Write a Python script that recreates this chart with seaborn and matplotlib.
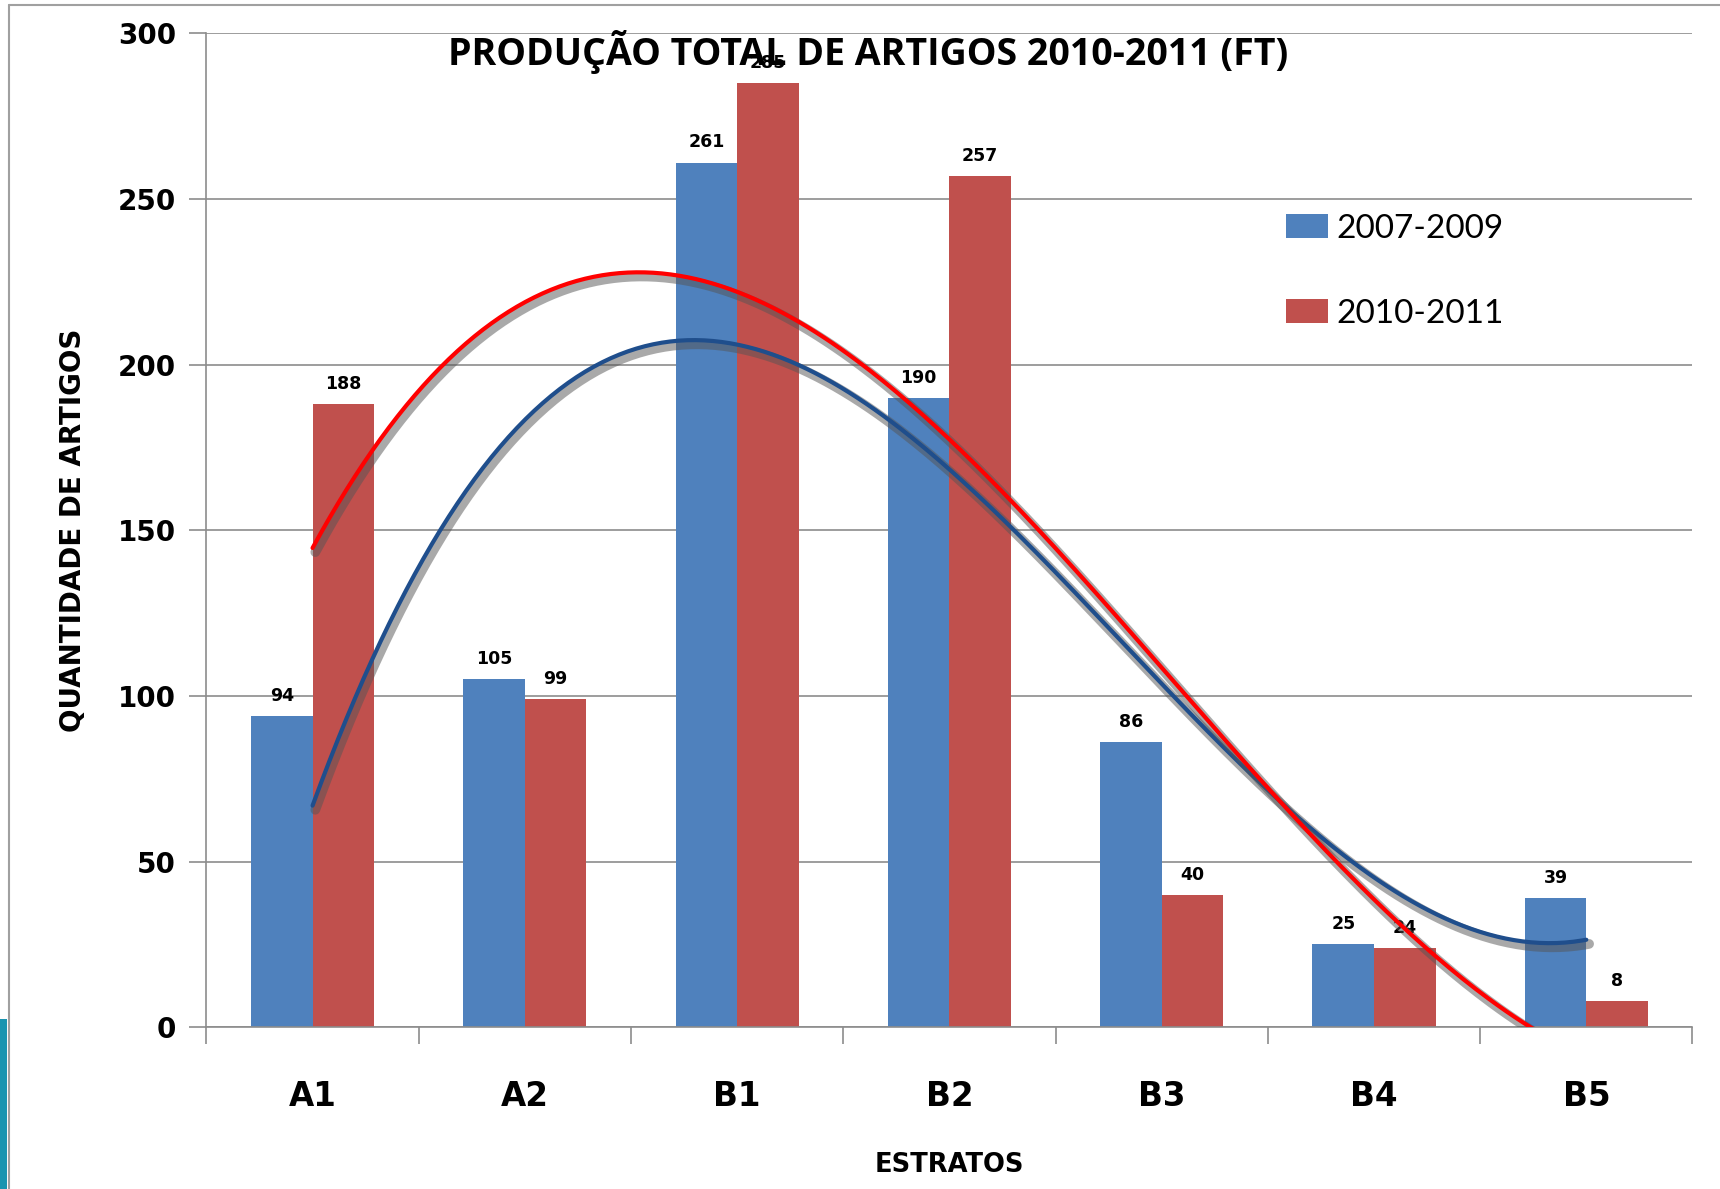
import numpy as np
import pandas as pd
import seaborn as sns
import matplotlib.pyplot as plt
import matplotlib.patheffects as pe
from matplotlib.lines import Line2D
from matplotlib.patches import Rectangle

categories = ['A1', 'A2', 'B1', 'B2', 'B3', 'B4', 'B5']
serie_2007_2009 = [94, 105, 261, 190, 86, 25, 39]
serie_2010_2011 = [188, 99, 285, 257, 40, 24, 8]
series_names = ['2007-2009', '2010-2011']
colors = ['#4F81BD', '#C0504D']
trend_colors = ['#1F4E8C', '#FF0000']

data = pd.DataFrame({
    'Estrato': categories * 2,
    'Periodo': [series_names[0]] * 7 + [series_names[1]] * 7,
    'Artigos': serie_2007_2009 + serie_2010_2011,
})

sns.set_theme(style='white')
plt.rcParams['font.family'] = ['DejaVu Sans']
plt.rcParams['text.color'] = 'black'
plt.rcParams['axes.labelcolor'] = 'black'
plt.rcParams['xtick.labelcolor'] = 'black'
plt.rcParams['ytick.labelcolor'] = 'black'

fig = plt.figure(figsize=(17.2, 11.89), dpi=100)
ax = fig.add_axes([0.120, 0.136, 0.864, 0.836])

sns.barplot(data=data, x='Estrato', y='Artigos', hue='Periodo',
            palette=colors, width=0.58, saturation=1, linewidth=0, ax=ax, legend=True)

for container in ax.containers:
    ax.bar_label(container, padding=8, fontsize=12.5, fontweight='bold', color='black')

# polynomial trend lines (order 3), like the Excel trendline
xs = np.arange(len(categories))
xx = np.linspace(0, len(categories) - 1, 300)
for vals, c in zip([serie_2007_2009, serie_2010_2011], trend_colors):
    coef = np.polyfit(xs, vals, 3)
    ax.plot(xx, np.polyval(coef, xx), color=c, lw=3, zorder=5,
            path_effects=[pe.SimpleLineShadow(offset=(2, -3), shadow_color='#555555', alpha=0.5, linewidth=7),
                          pe.Normal()])

ax.set_ylim(0, 300)
ax.set_xlim(-0.5, 6.5)
ax.set_yticks(range(0, 301, 50))
ax.yaxis.grid(True, color='#8C8C8C', lw=1.2)
ax.set_axisbelow(True)
for s in ['top', 'right']:
    ax.spines[s].set_visible(False)
for s in ['left', 'bottom']:
    ax.spines[s].set_color('#8C8C8C')
    ax.spines[s].set_linewidth(1.2)

ax.set_xticks(np.arange(-0.5, 7, 1), minor=True)
ax.tick_params(axis='x', which='major', length=0, pad=38, labelsize=23.5)
ax.tick_params(axis='x', which='minor', length=12, color='#8C8C8C', width=1.2, direction='out')
ax.tick_params(axis='y', length=12, color='#8C8C8C', width=1.2, direction='out', labelsize=20, pad=10)
ax.tick_params(left=True, bottom=True, which='both')
for lbl in ax.get_xticklabels() + ax.get_yticklabels():
    lbl.set_fontweight('bold')

ax.set_xlabel('ESTRATOS', fontsize=18.5, fontweight='bold', labelpad=28)
ax.set_ylabel('QUANTIDADE DE ARTIGOS', fontsize=20, fontweight='bold', labelpad=22)
ax.text(0.445, 0.981, 'PRODUÇÃO TOTAL DE ARTIGOS 2010-2011 (FT)', transform=ax.transAxes,
        ha='center', va='center', fontsize=27, fontweight='bold', family='Open Sans', zorder=6)

leg = ax.legend(loc='upper left', bbox_to_anchor=(0.715, 0.835), frameon=False,
                prop={'family': 'Lato', 'size': 24}, borderpad=0,
                labelspacing=1.65, handlelength=1.27, handleheight=0.73, handletextpad=0.24)

# slide frame
fig.add_artist(Line2D([9 / 1720, 9 / 1720], [0, 1 - 5 / 1189], color='#A0A0A0', lw=1.5))
fig.add_artist(Line2D([9 / 1720, 1], [1 - 5 / 1189, 1 - 5 / 1189], color='#A0A0A0', lw=1.5))
fig.add_artist(Rectangle((0, 0), 7 / 1720, 170 / 1189, transform=fig.transFigure,
                         color='#1A94B0', lw=0))

fig.savefig('out.png', dpi=100)
